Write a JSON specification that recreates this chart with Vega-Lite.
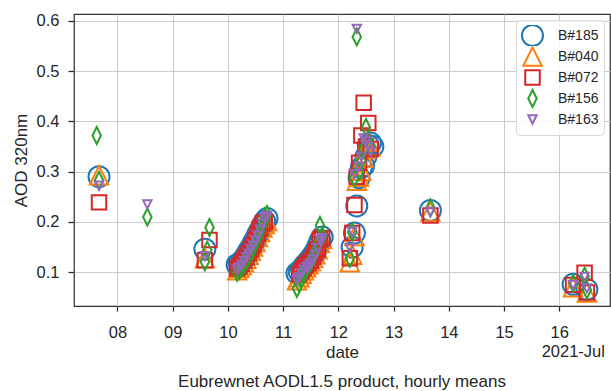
{
  "$schema": "https://vega.github.io/schema/vega-lite/v6.json",
  "width": 536,
  "height": 292,
  "autosize": {"type": "none"},
  "padding": {"left": 74, "top": 14, "right": 1, "bottom": 85},
  "background": "white",
  "config": {
    "font": "Liberation Sans",
    "view": {"stroke": "#333333", "strokeWidth": 1.25},
    "axis": {
      "domain": false,
      "grid": true,
      "gridColor": "#cccccc",
      "gridWidth": 1,
      "tickColor": "#262626",
      "tickWidth": 1.25,
      "labelColor": "#262626",
      "labelFontSize": 16.5,
      "titleColor": "#262626",
      "titleFontSize": 17,
      "titleFontWeight": "normal",
      "labelFlush": false,
      "labelOverlap": false
    },
    "axisX": {"labelExpr": "utcFormat(datum.value, '%d')"},
    "legend": {
      "orient": "top-right",
      "offset": 6,
      "padding": 5,
      "fillColor": "rgba(255,255,255,0.8)",
      "strokeColor": "#d9d9d9",
      "cornerRadius": 4,
      "labelFontSize": 14,
      "labelColor": "#262626",
      "labelOffset": 14,
      "symbolStrokeWidth": 2,
      "gridAlign": "all",
      "rowPadding": 0,
      "clipHeight": 21
    }
  },
  "title": {
    "text": "Eubrewnet AODL1.5 product, hourly means",
    "orient": "bottom",
    "fontSize": 17,
    "fontWeight": "normal",
    "color": "#262626",
    "offset": 13
  },
  "layer": [
    {
      "data": {
        "values": [
          {"t": "2021-07-07T16:00:00Z", "i": "B#185", "v": 0.290},
          {"t": "2021-07-09T14:00:00Z", "i": "B#185", "v": 0.146},
          {"t": "2021-07-10T04:00:00Z", "i": "B#185", "v": 0.115},
          {"t": "2021-07-10T05:00:00Z", "i": "B#185", "v": 0.118},
          {"t": "2021-07-10T06:00:00Z", "i": "B#185", "v": 0.121},
          {"t": "2021-07-10T07:00:00Z", "i": "B#185", "v": 0.127},
          {"t": "2021-07-10T08:00:00Z", "i": "B#185", "v": 0.134},
          {"t": "2021-07-10T09:00:00Z", "i": "B#185", "v": 0.142},
          {"t": "2021-07-10T10:00:00Z", "i": "B#185", "v": 0.149},
          {"t": "2021-07-10T11:00:00Z", "i": "B#185", "v": 0.158},
          {"t": "2021-07-10T12:00:00Z", "i": "B#185", "v": 0.166},
          {"t": "2021-07-10T13:00:00Z", "i": "B#185", "v": 0.176},
          {"t": "2021-07-10T14:00:00Z", "i": "B#185", "v": 0.184},
          {"t": "2021-07-10T15:00:00Z", "i": "B#185", "v": 0.194},
          {"t": "2021-07-10T16:00:00Z", "i": "B#185", "v": 0.201},
          {"t": "2021-07-10T17:00:00Z", "i": "B#185", "v": 0.207},
          {"t": "2021-07-11T06:00:00Z", "i": "B#185", "v": 0.098},
          {"t": "2021-07-11T07:00:00Z", "i": "B#185", "v": 0.101},
          {"t": "2021-07-11T08:00:00Z", "i": "B#185", "v": 0.106},
          {"t": "2021-07-11T09:00:00Z", "i": "B#185", "v": 0.112},
          {"t": "2021-07-11T10:00:00Z", "i": "B#185", "v": 0.117},
          {"t": "2021-07-11T11:00:00Z", "i": "B#185", "v": 0.122},
          {"t": "2021-07-11T12:00:00Z", "i": "B#185", "v": 0.128},
          {"t": "2021-07-11T13:00:00Z", "i": "B#185", "v": 0.134},
          {"t": "2021-07-11T14:00:00Z", "i": "B#185", "v": 0.141},
          {"t": "2021-07-11T15:00:00Z", "i": "B#185", "v": 0.151},
          {"t": "2021-07-11T16:00:00Z", "i": "B#185", "v": 0.162},
          {"t": "2021-07-11T17:00:00Z", "i": "B#185", "v": 0.170},
          {"t": "2021-07-12T06:00:00Z", "i": "B#185", "v": 0.150},
          {"t": "2021-07-12T07:00:00Z", "i": "B#185", "v": 0.178},
          {"t": "2021-07-12T08:00:00Z", "i": "B#185", "v": 0.232},
          {"t": "2021-07-12T09:00:00Z", "i": "B#185", "v": 0.288},
          {"t": "2021-07-12T10:00:00Z", "i": "B#185", "v": 0.308},
          {"t": "2021-07-12T11:00:00Z", "i": "B#185", "v": 0.312},
          {"t": "2021-07-12T12:00:00Z", "i": "B#185", "v": 0.330},
          {"t": "2021-07-12T13:00:00Z", "i": "B#185", "v": 0.352},
          {"t": "2021-07-12T14:00:00Z", "i": "B#185", "v": 0.357},
          {"t": "2021-07-12T15:00:00Z", "i": "B#185", "v": 0.350},
          {"t": "2021-07-13T16:00:00Z", "i": "B#185", "v": 0.223},
          {"t": "2021-07-16T06:00:00Z", "i": "B#185", "v": 0.076},
          {"t": "2021-07-16T12:00:00Z", "i": "B#185", "v": 0.066},

          {"t": "2021-07-07T16:00:00Z", "i": "B#040", "v": 0.293},
          {"t": "2021-07-09T14:00:00Z", "i": "B#040", "v": 0.128},
          {"t": "2021-07-10T04:00:00Z", "i": "B#040", "v": 0.104},
          {"t": "2021-07-10T05:00:00Z", "i": "B#040", "v": 0.109},
          {"t": "2021-07-10T06:00:00Z", "i": "B#040", "v": 0.114},
          {"t": "2021-07-10T07:00:00Z", "i": "B#040", "v": 0.120},
          {"t": "2021-07-10T08:00:00Z", "i": "B#040", "v": 0.127},
          {"t": "2021-07-10T09:00:00Z", "i": "B#040", "v": 0.135},
          {"t": "2021-07-10T10:00:00Z", "i": "B#040", "v": 0.143},
          {"t": "2021-07-10T11:00:00Z", "i": "B#040", "v": 0.151},
          {"t": "2021-07-10T12:00:00Z", "i": "B#040", "v": 0.160},
          {"t": "2021-07-10T13:00:00Z", "i": "B#040", "v": 0.170},
          {"t": "2021-07-10T14:00:00Z", "i": "B#040", "v": 0.180},
          {"t": "2021-07-10T15:00:00Z", "i": "B#040", "v": 0.189},
          {"t": "2021-07-10T16:00:00Z", "i": "B#040", "v": 0.196},
          {"t": "2021-07-10T17:00:00Z", "i": "B#040", "v": 0.202},
          {"t": "2021-07-11T06:00:00Z", "i": "B#040", "v": 0.084},
          {"t": "2021-07-11T07:00:00Z", "i": "B#040", "v": 0.090},
          {"t": "2021-07-11T08:00:00Z", "i": "B#040", "v": 0.097},
          {"t": "2021-07-11T09:00:00Z", "i": "B#040", "v": 0.104},
          {"t": "2021-07-11T10:00:00Z", "i": "B#040", "v": 0.110},
          {"t": "2021-07-11T11:00:00Z", "i": "B#040", "v": 0.116},
          {"t": "2021-07-11T12:00:00Z", "i": "B#040", "v": 0.122},
          {"t": "2021-07-11T13:00:00Z", "i": "B#040", "v": 0.129},
          {"t": "2021-07-11T14:00:00Z", "i": "B#040", "v": 0.136},
          {"t": "2021-07-11T15:00:00Z", "i": "B#040", "v": 0.146},
          {"t": "2021-07-11T16:00:00Z", "i": "B#040", "v": 0.158},
          {"t": "2021-07-11T17:00:00Z", "i": "B#040", "v": 0.166},
          {"t": "2021-07-12T05:00:00Z", "i": "B#040", "v": 0.120},
          {"t": "2021-07-12T06:00:00Z", "i": "B#040", "v": 0.135},
          {"t": "2021-07-12T07:00:00Z", "i": "B#040", "v": 0.172},
          {"t": "2021-07-12T08:00:00Z", "i": "B#040", "v": 0.282},
          {"t": "2021-07-12T09:00:00Z", "i": "B#040", "v": 0.290},
          {"t": "2021-07-12T10:00:00Z", "i": "B#040", "v": 0.302},
          {"t": "2021-07-12T11:00:00Z", "i": "B#040", "v": 0.328},
          {"t": "2021-07-12T12:00:00Z", "i": "B#040", "v": 0.345},
          {"t": "2021-07-12T13:00:00Z", "i": "B#040", "v": 0.360},
          {"t": "2021-07-12T14:00:00Z", "i": "B#040", "v": 0.350},
          {"t": "2021-07-13T16:00:00Z", "i": "B#040", "v": 0.221},
          {"t": "2021-07-16T06:00:00Z", "i": "B#040", "v": 0.070},
          {"t": "2021-07-16T12:00:00Z", "i": "B#040", "v": 0.060},

          {"t": "2021-07-07T16:00:00Z", "i": "B#072", "v": 0.239},
          {"t": "2021-07-09T14:00:00Z", "i": "B#072", "v": 0.124},
          {"t": "2021-07-09T16:00:00Z", "i": "B#072", "v": 0.164},
          {"t": "2021-07-10T04:00:00Z", "i": "B#072", "v": 0.108},
          {"t": "2021-07-10T05:00:00Z", "i": "B#072", "v": 0.112},
          {"t": "2021-07-10T06:00:00Z", "i": "B#072", "v": 0.117},
          {"t": "2021-07-10T07:00:00Z", "i": "B#072", "v": 0.123},
          {"t": "2021-07-10T08:00:00Z", "i": "B#072", "v": 0.130},
          {"t": "2021-07-10T09:00:00Z", "i": "B#072", "v": 0.138},
          {"t": "2021-07-10T10:00:00Z", "i": "B#072", "v": 0.146},
          {"t": "2021-07-10T11:00:00Z", "i": "B#072", "v": 0.155},
          {"t": "2021-07-10T12:00:00Z", "i": "B#072", "v": 0.165},
          {"t": "2021-07-10T13:00:00Z", "i": "B#072", "v": 0.176},
          {"t": "2021-07-10T14:00:00Z", "i": "B#072", "v": 0.187},
          {"t": "2021-07-10T15:00:00Z", "i": "B#072", "v": 0.197},
          {"t": "2021-07-10T16:00:00Z", "i": "B#072", "v": 0.200},
          {"t": "2021-07-11T07:00:00Z", "i": "B#072", "v": 0.096},
          {"t": "2021-07-11T08:00:00Z", "i": "B#072", "v": 0.102},
          {"t": "2021-07-11T09:00:00Z", "i": "B#072", "v": 0.108},
          {"t": "2021-07-11T10:00:00Z", "i": "B#072", "v": 0.114},
          {"t": "2021-07-11T11:00:00Z", "i": "B#072", "v": 0.118},
          {"t": "2021-07-11T12:00:00Z", "i": "B#072", "v": 0.123},
          {"t": "2021-07-11T13:00:00Z", "i": "B#072", "v": 0.131},
          {"t": "2021-07-11T14:00:00Z", "i": "B#072", "v": 0.140},
          {"t": "2021-07-11T15:00:00Z", "i": "B#072", "v": 0.146},
          {"t": "2021-07-11T16:00:00Z", "i": "B#072", "v": 0.165},
          {"t": "2021-07-11T17:00:00Z", "i": "B#072", "v": 0.168},
          {"t": "2021-07-12T05:00:00Z", "i": "B#072", "v": 0.128},
          {"t": "2021-07-12T06:00:00Z", "i": "B#072", "v": 0.178},
          {"t": "2021-07-12T07:00:00Z", "i": "B#072", "v": 0.234},
          {"t": "2021-07-12T08:00:00Z", "i": "B#072", "v": 0.290},
          {"t": "2021-07-12T09:00:00Z", "i": "B#072", "v": 0.318},
          {"t": "2021-07-12T10:00:00Z", "i": "B#072", "v": 0.372},
          {"t": "2021-07-12T11:00:00Z", "i": "B#072", "v": 0.437},
          {"t": "2021-07-12T12:00:00Z", "i": "B#072", "v": 0.350},
          {"t": "2021-07-12T13:00:00Z", "i": "B#072", "v": 0.397},
          {"t": "2021-07-12T14:00:00Z", "i": "B#072", "v": 0.345},
          {"t": "2021-07-13T16:00:00Z", "i": "B#072", "v": 0.213},
          {"t": "2021-07-16T06:00:00Z", "i": "B#072", "v": 0.075},
          {"t": "2021-07-16T11:00:00Z", "i": "B#072", "v": 0.099},
          {"t": "2021-07-16T12:00:00Z", "i": "B#072", "v": 0.060},

          {"t": "2021-07-07T15:00:00Z", "i": "B#156", "v": 0.372},
          {"t": "2021-07-07T16:00:00Z", "i": "B#156", "v": 0.283},
          {"t": "2021-07-08T13:00:00Z", "i": "B#156", "v": 0.210},
          {"t": "2021-07-09T14:00:00Z", "i": "B#156", "v": 0.121},
          {"t": "2021-07-09T15:00:00Z", "i": "B#156", "v": 0.144},
          {"t": "2021-07-09T16:00:00Z", "i": "B#156", "v": 0.189},
          {"t": "2021-07-10T04:00:00Z", "i": "B#156", "v": 0.100},
          {"t": "2021-07-10T05:00:00Z", "i": "B#156", "v": 0.104},
          {"t": "2021-07-10T06:00:00Z", "i": "B#156", "v": 0.110},
          {"t": "2021-07-10T07:00:00Z", "i": "B#156", "v": 0.117},
          {"t": "2021-07-10T08:00:00Z", "i": "B#156", "v": 0.124},
          {"t": "2021-07-10T09:00:00Z", "i": "B#156", "v": 0.132},
          {"t": "2021-07-10T10:00:00Z", "i": "B#156", "v": 0.140},
          {"t": "2021-07-10T11:00:00Z", "i": "B#156", "v": 0.150},
          {"t": "2021-07-10T12:00:00Z", "i": "B#156", "v": 0.160},
          {"t": "2021-07-10T13:00:00Z", "i": "B#156", "v": 0.170},
          {"t": "2021-07-10T14:00:00Z", "i": "B#156", "v": 0.182},
          {"t": "2021-07-10T15:00:00Z", "i": "B#156", "v": 0.196},
          {"t": "2021-07-10T16:00:00Z", "i": "B#156", "v": 0.210},
          {"t": "2021-07-10T17:00:00Z", "i": "B#156", "v": 0.215},
          {"t": "2021-07-11T06:00:00Z", "i": "B#156", "v": 0.068},
          {"t": "2021-07-11T07:00:00Z", "i": "B#156", "v": 0.078},
          {"t": "2021-07-11T08:00:00Z", "i": "B#156", "v": 0.088},
          {"t": "2021-07-11T09:00:00Z", "i": "B#156", "v": 0.098},
          {"t": "2021-07-11T10:00:00Z", "i": "B#156", "v": 0.108},
          {"t": "2021-07-11T11:00:00Z", "i": "B#156", "v": 0.115},
          {"t": "2021-07-11T12:00:00Z", "i": "B#156", "v": 0.121},
          {"t": "2021-07-11T13:00:00Z", "i": "B#156", "v": 0.131},
          {"t": "2021-07-11T14:00:00Z", "i": "B#156", "v": 0.141},
          {"t": "2021-07-11T15:00:00Z", "i": "B#156", "v": 0.156},
          {"t": "2021-07-11T16:00:00Z", "i": "B#156", "v": 0.193},
          {"t": "2021-07-11T17:00:00Z", "i": "B#156", "v": 0.172},
          {"t": "2021-07-12T05:00:00Z", "i": "B#156", "v": 0.128},
          {"t": "2021-07-12T06:00:00Z", "i": "B#156", "v": 0.180},
          {"t": "2021-07-12T07:00:00Z", "i": "B#156", "v": 0.288},
          {"t": "2021-07-12T08:00:00Z", "i": "B#156", "v": 0.568},
          {"t": "2021-07-12T09:00:00Z", "i": "B#156", "v": 0.300},
          {"t": "2021-07-12T10:00:00Z", "i": "B#156", "v": 0.322},
          {"t": "2021-07-12T11:00:00Z", "i": "B#156", "v": 0.345},
          {"t": "2021-07-12T12:00:00Z", "i": "B#156", "v": 0.388},
          {"t": "2021-07-12T13:00:00Z", "i": "B#156", "v": 0.362},
          {"t": "2021-07-12T14:00:00Z", "i": "B#156", "v": 0.350},
          {"t": "2021-07-13T16:00:00Z", "i": "B#156", "v": 0.228},
          {"t": "2021-07-16T06:00:00Z", "i": "B#156", "v": 0.078},
          {"t": "2021-07-16T11:00:00Z", "i": "B#156", "v": 0.092},
          {"t": "2021-07-16T12:00:00Z", "i": "B#156", "v": 0.065},

          {"t": "2021-07-07T16:00:00Z", "i": "B#163", "v": 0.272},
          {"t": "2021-07-08T13:00:00Z", "i": "B#163", "v": 0.235},
          {"t": "2021-07-09T14:00:00Z", "i": "B#163", "v": 0.132},
          {"t": "2021-07-10T04:00:00Z", "i": "B#163", "v": 0.105},
          {"t": "2021-07-10T05:00:00Z", "i": "B#163", "v": 0.110},
          {"t": "2021-07-10T06:00:00Z", "i": "B#163", "v": 0.115},
          {"t": "2021-07-10T07:00:00Z", "i": "B#163", "v": 0.122},
          {"t": "2021-07-10T08:00:00Z", "i": "B#163", "v": 0.130},
          {"t": "2021-07-10T09:00:00Z", "i": "B#163", "v": 0.137},
          {"t": "2021-07-10T10:00:00Z", "i": "B#163", "v": 0.145},
          {"t": "2021-07-10T11:00:00Z", "i": "B#163", "v": 0.153},
          {"t": "2021-07-10T12:00:00Z", "i": "B#163", "v": 0.163},
          {"t": "2021-07-10T13:00:00Z", "i": "B#163", "v": 0.173},
          {"t": "2021-07-10T14:00:00Z", "i": "B#163", "v": 0.184},
          {"t": "2021-07-10T15:00:00Z", "i": "B#163", "v": 0.196},
          {"t": "2021-07-10T16:00:00Z", "i": "B#163", "v": 0.208},
          {"t": "2021-07-10T17:00:00Z", "i": "B#163", "v": 0.212},
          {"t": "2021-07-11T06:00:00Z", "i": "B#163", "v": 0.085},
          {"t": "2021-07-11T07:00:00Z", "i": "B#163", "v": 0.090},
          {"t": "2021-07-11T08:00:00Z", "i": "B#163", "v": 0.098},
          {"t": "2021-07-11T09:00:00Z", "i": "B#163", "v": 0.105},
          {"t": "2021-07-11T10:00:00Z", "i": "B#163", "v": 0.110},
          {"t": "2021-07-11T11:00:00Z", "i": "B#163", "v": 0.113},
          {"t": "2021-07-11T12:00:00Z", "i": "B#163", "v": 0.118},
          {"t": "2021-07-11T13:00:00Z", "i": "B#163", "v": 0.125},
          {"t": "2021-07-11T14:00:00Z", "i": "B#163", "v": 0.135},
          {"t": "2021-07-11T15:00:00Z", "i": "B#163", "v": 0.148},
          {"t": "2021-07-11T16:00:00Z", "i": "B#163", "v": 0.165},
          {"t": "2021-07-11T17:00:00Z", "i": "B#163", "v": 0.168},
          {"t": "2021-07-12T05:00:00Z", "i": "B#163", "v": 0.148},
          {"t": "2021-07-12T06:00:00Z", "i": "B#163", "v": 0.180},
          {"t": "2021-07-12T07:00:00Z", "i": "B#163", "v": 0.295},
          {"t": "2021-07-12T08:00:00Z", "i": "B#163", "v": 0.584},
          {"t": "2021-07-12T09:00:00Z", "i": "B#163", "v": 0.310},
          {"t": "2021-07-12T10:00:00Z", "i": "B#163", "v": 0.330},
          {"t": "2021-07-12T11:00:00Z", "i": "B#163", "v": 0.366},
          {"t": "2021-07-12T12:00:00Z", "i": "B#163", "v": 0.360},
          {"t": "2021-07-12T13:00:00Z", "i": "B#163", "v": 0.350},
          {"t": "2021-07-12T14:00:00Z", "i": "B#163", "v": 0.340},
          {"t": "2021-07-13T16:00:00Z", "i": "B#163", "v": 0.220},
          {"t": "2021-07-16T06:00:00Z", "i": "B#163", "v": 0.075},
          {"t": "2021-07-16T11:00:00Z", "i": "B#163", "v": 0.091},
          {"t": "2021-07-16T12:00:00Z", "i": "B#163", "v": 0.068}
        ]
      },
      "mark": {"type": "point", "filled": false, "strokeWidth": 2, "opacity": 1},
      "encoding": {
        "x": {
          "field": "t",
          "type": "temporal",
          "title": "date",
          "scale": {
            "type": "utc",
            "nice": false,
            "domain": [
              {"year": 2021, "month": 7, "date": 7, "hours": 5, "minutes": 8, "utc": true},
              {"year": 2021, "month": 7, "date": 16, "hours": 22, "minutes": 2, "utc": true}
            ]
          },
          "axis": {
            "labelExpr": "utcFormat(datum.value, '%d')",
            "values": [
              {"year": 2021, "month": 7, "date": 8, "utc": true},
              {"year": 2021, "month": 7, "date": 9, "utc": true},
              {"year": 2021, "month": 7, "date": 10, "utc": true},
              {"year": 2021, "month": 7, "date": 11, "utc": true},
              {"year": 2021, "month": 7, "date": 12, "utc": true},
              {"year": 2021, "month": 7, "date": 13, "utc": true},
              {"year": 2021, "month": 7, "date": 14, "utc": true},
              {"year": 2021, "month": 7, "date": 15, "utc": true},
              {"year": 2021, "month": 7, "date": 16, "utc": true}
            ],
            "tickSize": 5,
            "labelPadding": 13,
            "titlePadding": 4
          }
        },
        "y": {
          "field": "v",
          "type": "quantitative",
          "title": "AOD 320nm",
          "scale": {"domain": [0.033, 0.6135], "nice": false, "zero": false},
          "axis": {
            "values": [0.1, 0.2, 0.3, 0.4, 0.5, 0.6],
            "format": ".1f",
            "tickSize": 6,
            "labelPadding": 9,
            "titlePadding": 6
          }
        },
        "color": {
          "field": "i",
          "type": "nominal",
          "title": null,
          "legend": {"rowPadding": 0, "clipHeight": 21, "gridAlign": "all"},
          "scale": {
            "domain": ["B#185", "B#040", "B#072", "B#156", "B#163"],
            "range": ["#1f77b4", "#ff7f0e", "#d62728", "#2ca02c", "#9467bd"]
          }
        },
        "shape": {
          "field": "i",
          "type": "nominal",
          "title": null,
          "scale": {
            "domain": ["B#185", "B#040", "B#072", "B#156", "B#163"],
            "range": ["circle", "M0,-1L1,1L-1,1Z", "square", "M0,-1L0.5,0L0,1L-0.5,0Z", "M-1,-1L1,-1L0,1Z"]
          }
        },
        "size": {
          "field": "i",
          "type": "nominal",
          "title": null,
          "scale": {
            "type": "ordinal",
            "domain": ["B#185", "B#040", "B#072", "B#156", "B#163"],
            "range": [441, 340, 210, 289, 70]
          }
        }
      }
    },
    {
      "data": {"values": [{"label": "2021-Jul"}]},
      "mark": {
        "type": "text",
        "align": "right",
        "baseline": "middle",
        "fontSize": 16.5,
        "color": "#262626"
      },
      "encoding": {
        "text": {"field": "label"},
        "x": {"datum": {"year": 2021, "month": 7, "date": 16, "hours": 19, "minutes": 50, "utc": true}, "type": "temporal"},
        "y": {"datum": -0.0593, "type": "quantitative"}
      }
    }
  ]
}
